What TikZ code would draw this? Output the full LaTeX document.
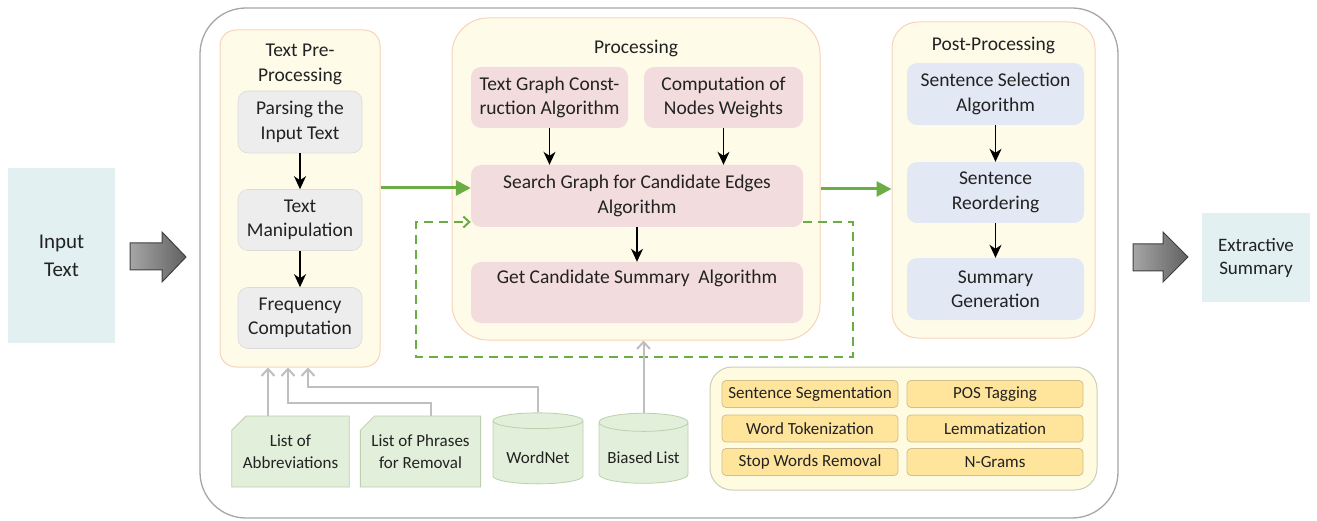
\documentclass[tikz,border=0pt]{standalone}
\usepackage{fontspec}
\setmainfont{Carlito}
\usetikzlibrary{arrows.meta,shapes.geometric,shapes.misc}

\definecolor{txt}{HTML}{222222}
\definecolor{framegray}{HTML}{A6A6A6}
\definecolor{iofill}{HTML}{E2F0F1}
\definecolor{stagefill}{HTML}{FEFCE9}
\definecolor{stageline}{HTML}{F8D3B8}
\definecolor{grayfill}{HTML}{EDEDED}
\definecolor{grayline}{HTML}{DADADA}
\definecolor{pinkfill}{HTML}{F2DCDD}
\definecolor{bluefill}{HTML}{E2E9F5}
\definecolor{toolfill}{HTML}{FEFBE1}
\definecolor{toolline}{HTML}{CFCDB8}
\definecolor{nlpfill}{HTML}{FFE49C}
\definecolor{nlpline}{HTML}{D2BF8E}
\definecolor{resfill}{HTML}{E2EFDA}
\definecolor{resline}{HTML}{BCCFAE}
\definecolor{flowgreen}{HTML}{6AAD45}
\definecolor{resgray}{HTML}{BFBFBF}

\begin{document}
\begin{tikzpicture}[x=1pt,y=-1pt,
  every node/.style={inner sep=0pt, align=center, text=txt},
  mainfont/.style={font=\fontsize{19.5}{24.5}\selectfont},
  smallfont/.style={font=\fontsize{17}{22}\selectfont},
  iobox/.style={rectangle, fill=iofill},
  outerpanel/.style={rectangle, rounded corners=46pt, draw=framegray, line width=1.3pt, fill=white},
  stagepanel/.style={rectangle, draw=stageline, line width=1pt, fill=stagefill},
  graybox/.style={rectangle, rounded corners=10pt, fill=grayfill, draw=grayline, line width=0.6pt, mainfont},
  pinkbox/.style={rectangle, rounded corners=10pt, fill=pinkfill, mainfont},
  bluebox/.style={rectangle, rounded corners=10pt, fill=bluefill, mainfont},
  toolpanel/.style={rectangle, rounded corners=22pt, fill=toolfill, draw=toolline, line width=1pt},
  nlpbox/.style={rectangle, rounded corners=4pt, fill=nlpfill, draw=nlpline, line width=0.8pt,
    minimum width=176, minimum height=27, smallfont},
  listcard/.style={chamfered rectangle, chamfered rectangle corners=north west,
    chamfered rectangle xsep=11pt, chamfered rectangle angle=45,
    fill=resfill, draw=resline, line width=0.8pt, minimum width=115, minimum height=71, smallfont},
  dbcyl/.style={cylinder, shape border rotate=90, aspect=0.25,
    fill=resfill, draw=resline, line width=0.8pt, smallfont},
  flow/.style={draw=black, line width=1.4pt, -{Stealth[length=13pt,width=12pt,inset=4pt]}},
  mainflow/.style={draw=flowgreen, line width=3pt, -{Triangle[length=15pt,width=15pt]}},
  loopflow/.style={draw=flowgreen, line width=2pt, dash pattern=on 9pt off 6pt,
    -{Straight Barb[length=6pt,width=11pt]}},
  resflow/.style={draw=resgray, line width=2pt, -{Straight Barb[length=7pt,width=13pt]}},
  blockarrow/.style={left color=black!35, right color=black!62, draw=black!75, line width=1pt},
]
\useasboundingbox (0,0) rectangle (1317,521);

% surrounding frame of the system
\node[outerpanel, minimum width=918, minimum height=510] (frame) at (659,263) {};

% input and output
\node[iobox, minimum width=107, minimum height=175, font=\fontsize{21}{28}\selectfont] (input) at (61.5,255.5) {Input\\Text};
\node[iobox, minimum width=108, minimum height=89, font=\fontsize{19}{23}\selectfont] (output) at (1256,257.5) {Extractive\\Summary};

% block arrows into and out of the system
\path[blockarrow] (130,243) -- (162,243) -- (162,232) -- (186,257) -- (162,282) -- (162,270) -- (130,270) -- cycle;
\path[blockarrow] (1133,244) -- (1163,244) -- (1163,232) -- (1188,257) -- (1163,282) -- (1163,271) -- (1133,271) -- cycle;

% stage 1: text pre-processing
\node[stagepanel, rounded corners=16pt, minimum width=160, minimum height=337] (pre) at (300,198.5) {};
\node[mainfont] (pretitle) at (300,64.5) {Text Pre-\\Processing};
\node[graybox, minimum width=124, minimum height=62] (parse) at (300,122) {Parsing the\\Input Text};
\node[graybox, minimum width=124, minimum height=61] (manip) at (300,220) {Text\\Manipulation};
\node[graybox, minimum width=124, minimum height=61] (freq) at (300,318) {Frequency\\Computation};

% stage 2: processing
\node[stagepanel, rounded corners=36pt, minimum width=368, minimum height=322] (proc) at (636,179) {};
\node[mainfont] (proctitle) at (636,48) {Processing};
\node[pinkbox, minimum width=157, minimum height=61] (tgraph) at (549.5,97.5) {Text Graph Const-\\ruction Algorithm};
\node[pinkbox, minimum width=159, minimum height=61] (weights) at (723.5,97.5) {Computation of\\Nodes Weights};
\node[pinkbox, minimum width=332, minimum height=62] (search) at (637,196) {Search Graph for Candidate Edges\\Algorithm};
\node[pinkbox, minimum width=332, minimum height=61] (cand) at (637,292.5) {Get Candidate Summary~ Algorithm\\\strut};

% stage 3: post-processing
\node[stagepanel, rounded corners=26pt, minimum width=203, minimum height=316] (post) at (993.5,180) {};
\node[mainfont] (posttitle) at (993.5,45) {Post-Processing};
\node[bluebox, minimum width=177, minimum height=62] (select) at (995.5,94) {Sentence Selection\\Algorithm};
\node[bluebox, minimum width=177, minimum height=61] (reorder) at (995.5,192.5) {Sentence\\Reordering};
\node[bluebox, minimum width=177, minimum height=62] (generate) at (995.5,289) {Summary\\Generation};

% NLP toolkit
\node[toolpanel, minimum width=387, minimum height=123] (tools) at (903.5,428.5) {};
\node[nlpbox] (segment) at (810,394) {Sentence Segmentation};
\node[nlpbox] (postag) at (995,394) {POS Tagging};
\node[nlpbox] (tokens) at (810,428.5) {Word Tokenization};
\node[nlpbox] (lemma) at (995,428.5) {Lemmatization};
\node[nlpbox] (stopw) at (810,462) {Stop Words Removal};
\node[nlpbox] (ngrams) at (995,462) {N-Grams};

% resources
\node[listcard] (abbr) at (290.5,451.5) {List of\\Abbreviations};
\node[listcard] (phrases) at (420.5,451.5) {List of Phrases\\for Removal};
\node[dbcyl, minimum width=90, minimum height=71] (wordnet) at (538,452.5) {\mbox{}\\WordNet};
\node[dbcyl, minimum width=89, minimum height=70] (biased) at (643.5,453) {\mbox{}\\Biased List};

% flow inside the stages
\draw[flow] (parse) -- (manip);
\draw[flow] (manip) -- (freq);
\draw[flow] (tgraph.south) -- (tgraph.south |- search.north);
\draw[flow] (weights.south) -- (weights.south |- search.north);
\draw[flow] (search.south -| cand.north) -- (cand.north);
\draw[flow] (select) -- (reorder);
\draw[flow] (reorder) -- (generate);

% flow between the stages
\draw[mainflow] (pre.east |- 0,188) -- (search.west |- 0,188);
\draw[mainflow] (proc.east |- 0,189) -- (post.west |- 0,189);
\draw[loopflow] (search.east |- 0,222) -- (853,222) -- (853,357) -- (416,357) -- (416,222) -- (search.west |- 0,222);

% resources feeding the stages
\draw[resflow] (abbr.north -| 268,0) -- (pre.south -| 268,0);
\draw[resflow] (phrases.north -| 431,0) |- (288,403) -- (pre.south -| 288,0);
\draw[resflow] (wordnet.north) |- (308,387) -- (pre.south -| 308,0);
\draw[resflow] (biased.north) -- (proc.south -| biased.north);
\end{tikzpicture}
\end{document}
